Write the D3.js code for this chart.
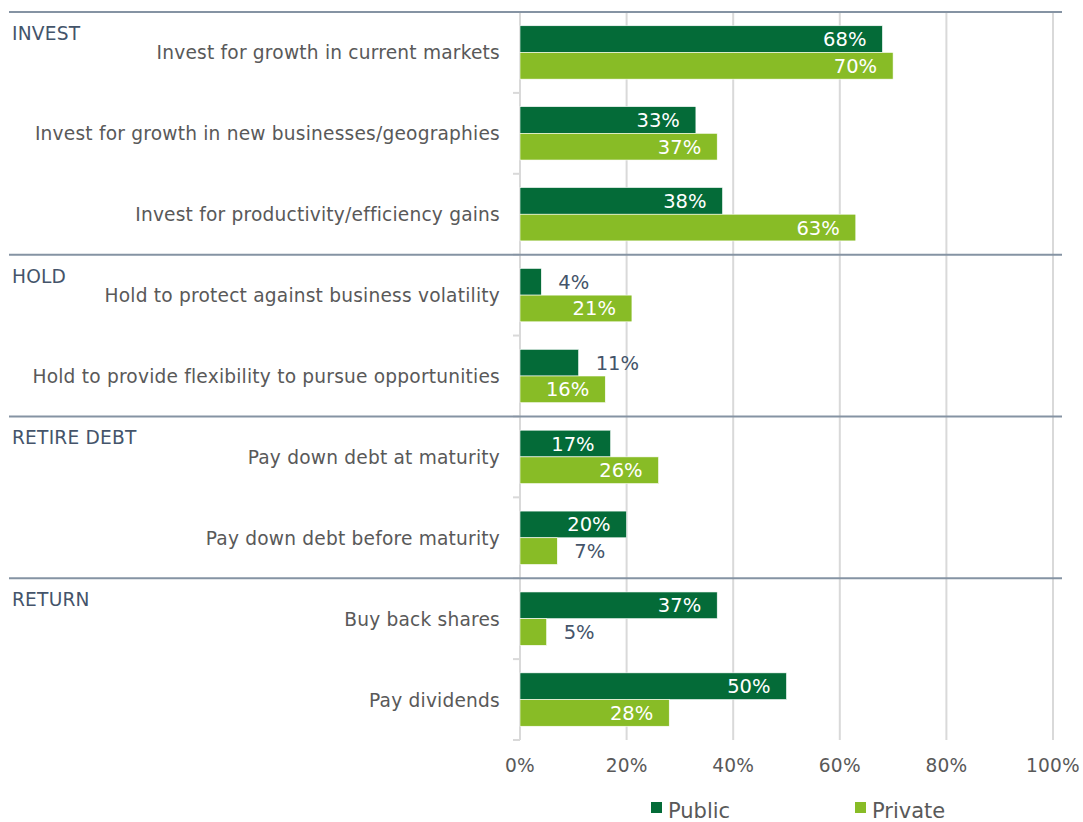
<!DOCTYPE html>
<html>
<head>
<meta charset="utf-8">
<script src="https://cdn.jsdelivr.net/npm/d3@7"></script>
<style>
  body { margin: 0; background: #fff; }
  svg { font-family: "DejaVu Sans", Verdana, sans-serif; }
</style>
</head>
<body>
<svg width="1083" height="822"></svg>
<script>
// chart data
const categories = [
  "Invest for growth in current markets",
  "Invest for growth in new businesses/geographies",
  "Invest for productivity/efficiency gains",
  "Hold to protect against business volatility",
  "Hold to provide flexibility to pursue opportunities",
  "Pay down debt at maturity",
  "Pay down debt before maturity",
  "Buy back shares",
  "Pay dividends"
]
const publicValues = [68, 33, 38, 4, 11, 17, 20, 37, 50]
const privateValues = [70, 37, 63, 21, 16, 26, 7, 5, 28]
const groupNames = ["INVEST", "HOLD", "RETIRE DEBT", "RETURN"]
const groupStarts = [0, 3, 5, 7] // index of first category in each group
const seriesNames = ["Public", "Private"]
const xTicks = [0, 20, 40, 60, 80, 100]

const colors = { Public: "#046b38", Private: "#88bc26" }

const svg = d3.select('svg')
const plotLeft = 520, plotRight = 1053, plotTop = 12, plotBottom = 740
const labelSize = 18.6 // Verdana-ish width with DejaVu

const x = d3.scaleLinear().domain([0, 100]).range([plotLeft, plotRight])
const y = d3.scaleBand().domain(categories).range([plotTop, plotBottom])
  .paddingInner(0.34).paddingOuter(0.17)
const ySeries = d3.scaleBand().domain(seriesNames).range([0, y.bandwidth()])

const rows = categories.map((c, i) => ({
  cat: c,
  values: [
    { key: "Public", v: publicValues[i] },
    { key: "Private", v: privateValues[i] }
  ]
}))

// gridlines
svg.append("g").selectAll("line")
  .data(xTicks)
  .enter().append("line")
    .attr("x1", d => x(d)).attr("x2", d => x(d))
    .attr("y1", plotTop).attr("y2", plotBottom)
    .attr("stroke", "#d9d9d9").attr("stroke-width", 2)

// category boundary ticks on the left axis
const step = y.step()
svg.append("g").selectAll("line")
  .data(d3.range(categories.length + 1))
  .enter().append("line")
    .attr("x1", plotLeft - 7).attr("x2", plotLeft)
    .attr("y1", i => plotTop + i * step).attr("y2", i => plotTop + i * step)
    .attr("stroke", "#d9d9d9").attr("stroke-width", 2)

// group separators
svg.append("g").selectAll("line")
  .data(groupStarts)
  .enter().append("line")
    .attr("x1", 9).attr("x2", 1062)
    .attr("y1", i => plotTop + i * step).attr("y2", i => plotTop + i * step)
    .attr("stroke", "#8593a3").attr("stroke-width", 2)

// group names
svg.append("g").selectAll("text")
  .data(groupNames)
  .enter().append("text")
    .attr("x", 12)
    .attr("y", (d, i) => plotTop + groupStarts[i] * step + 28)
    .attr("font-size", labelSize)
    .attr("letter-spacing", 0.2)
    .attr("fill", "#44546a")
    .text(d => d)

// category labels
svg.append("g").selectAll("text")
  .data(categories)
  .enter().append("text")
    .attr("x", 500)
    .attr("y", d => y(d) + y.bandwidth() / 2 + 7)
    .attr("text-anchor", "end")
    .attr("font-size", labelSize)
    .attr("letter-spacing", 0.2)
    .attr("fill", "#595959")
    .text(d => d)

// bars
const rowG = svg.append("g").selectAll("g")
  .data(rows)
  .enter().append("g")
    .attr("transform", d => `translate(0,${y(d.cat)})`)

rowG.selectAll("rect")
  .data(d => d.values)
  .enter().append("rect")
    .attr("x", x(0))
    .attr("y", d => ySeries(d.key))
    .attr("width", d => x(d.v) - x(0))
    .attr("height", ySeries.bandwidth())
    .attr("fill", d => colors[d.key])
    .attr("stroke", "#fff").attr("stroke-width", 0.6)

// value labels: inside end when they fit, outside otherwise
rowG.selectAll("text")
  .data(d => d.values)
  .enter().append("text")
    .attr("font-size", 19.5)
    .attr("y", d => ySeries(d.key) + ySeries.bandwidth() / 2 + 7)
    .text(d => d.v + "%")
    .each(function (d) {
      const w = this.getComputedTextLength()
      const barW = x(d.v) - x(0)
      const t = d3.select(this)
      if (barW > w + 20) {
        t.attr("x", x(d.v) - 16).attr("text-anchor", "end").attr("fill", "#fff")
      } else {
        t.attr("x", x(d.v) + 17).attr("text-anchor", "start").attr("fill", "#44546a")
      }
    })

// x axis labels
svg.append("g").selectAll("text")
  .data(xTicks)
  .enter().append("text")
    .attr("x", d => x(d))
    .attr("y", 772)
    .attr("text-anchor", "middle")
    .attr("font-size", labelSize)
    .attr("letter-spacing", 0.2)
    .attr("fill", "#595959")
    .text(d => d + "%")

// legend
const legend = svg.append("g").selectAll("g")
  .data(seriesNames)
  .enter().append("g")
    .attr("transform", (d, i) => `translate(${651 + i * 204},802)`)
legend.append("rect")
  .attr("width", 11).attr("height", 11)
  .attr("fill", d => colors[d])
legend.append("text")
  .attr("x", 17).attr("y", 16)
  .attr("font-size", 21)
  .attr("fill", "#595959")
  .text(d => d)
</script>
</body>
</html>
